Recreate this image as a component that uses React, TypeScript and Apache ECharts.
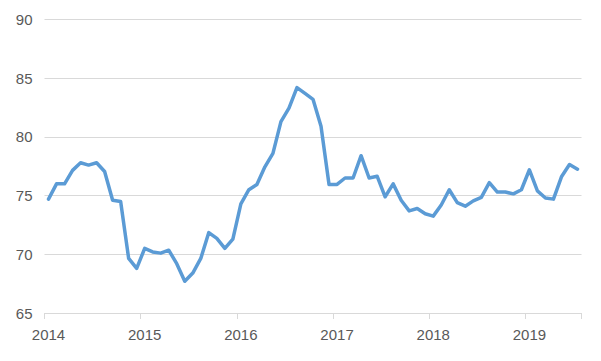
import React, { useEffect, useRef } from "react";
import * as echarts from "echarts";

const years = ["2014", "2015", "2016", "2017", "2018", "2019"];
const monthsPerYear = [12, 12, 12, 12, 12, 7];

const values2014 = [74.7, 76.0, 76.0, 77.15, 77.8, 77.6, 77.8, 77.05, 74.6, 74.5, 69.65, 68.8];
const values2015 = [70.5, 70.2, 70.1, 70.35, 69.2, 67.7, 68.4, 69.65, 71.85, 71.35, 70.5, 71.3];
const values2016 = [74.3, 75.5, 75.95, 77.45, 78.6, 81.3, 82.45, 84.2, 83.7, 83.2, 80.9, 75.95];
const values2017 = [75.95, 76.5, 76.5, 78.4, 76.5, 76.65, 74.9, 76.0, 74.6, 73.7, 73.9, 73.45];
const values2018 = [73.25, 74.2, 75.5, 74.4, 74.1, 74.55, 74.85, 76.1, 75.3, 75.3, 75.15, 75.5];
const values2019 = [77.2, 75.4, 74.8, 74.7, 76.6, 77.65, 77.25];

const yTicks = { min: 65, max: 90, interval: 5 };

export default function App() {
  const ref = useRef<HTMLDivElement>(null);
  useEffect(() => {
    if (!ref.current) return;
    const chart = echarts.init(ref.current, undefined, { renderer: "svg" });
    const categories: string[] = [];
    years.forEach((y, i) => {
      for (let m = 0; m < monthsPerYear[i]; m++) categories.push(m === 0 ? y : y + "-" + (m + 1));
    });
    const data = [
      ...values2014,
      ...values2015,
      ...values2016,
      ...values2017,
      ...values2018,
      ...values2019,
    ];
    const font = "'Liberation Sans', Arial, sans-serif";
    chart.setOption({
      animation: false,
      grid: { left: 44.5, right: 19.5, top: 19.5, bottom: 48 },
      xAxis: {
        type: "category",
        data: categories,
        boundaryGap: true,
        axisLine: { show: true, lineStyle: { color: "#D9D9D9", width: 1 } },
        axisTick: { show: true, interval: 11, length: 6, lineStyle: { color: "#D9D9D9" } },
        axisLabel: {
          interval: 11,
          color: "#595959",
          fontSize: 15,
          fontFamily: font,
          margin: 14,
          formatter: (v: string) => v.slice(0, 4),
        },
        splitLine: { show: false },
      },
      yAxis: {
        type: "value",
        min: yTicks.min,
        max: yTicks.max,
        interval: yTicks.interval,
        axisLine: { show: false },
        axisTick: { show: false },
        axisLabel: { color: "#595959", fontSize: 15, fontFamily: font, margin: 12 },
        splitLine: { lineStyle: { color: "#D9D9D9", width: 1 } },
      },
      series: [
        {
          type: "line",
          data,
          symbol: "none",
          lineStyle: { color: "#5B9BD5", width: 3.5, join: "round", cap: "round" },
          itemStyle: { color: "#5B9BD5" },
        },
      ],
    });
    return () => chart.dispose();
  }, []);
  return <div ref={ref} style={{ width: 601, height: 361, position: "absolute", left: 0, top: 0 }} />;
}
